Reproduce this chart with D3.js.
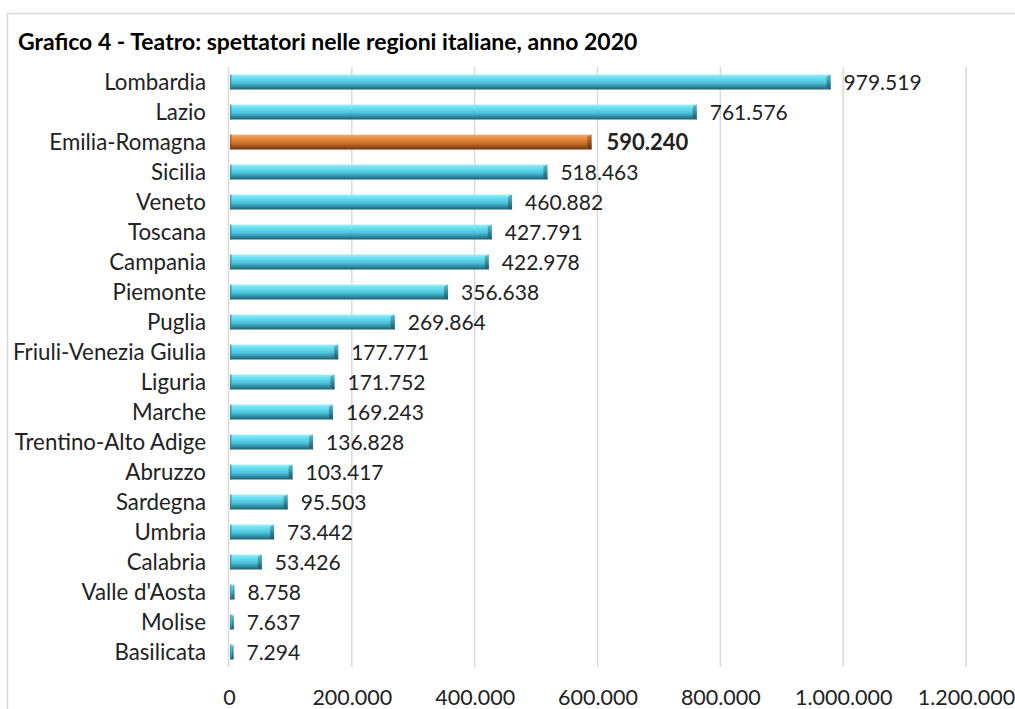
<!DOCTYPE html>
<html><head><meta charset="utf-8">
<script src="https://cdn.jsdelivr.net/npm/d3@7"></script>
<style>
body{margin:0;background:#fff;}
svg{display:block;font-family:Lato,"Open Sans",sans-serif;}
</style></head>
<body><svg id="c" width="1015" height="709"></svg>
<script>
const regions = ["Lombardia","Lazio","Emilia-Romagna","Sicilia","Veneto","Toscana","Campania","Piemonte","Puglia","Friuli-Venezia Giulia","Liguria","Marche","Trentino-Alto Adige","Abruzzo","Sardegna","Umbria","Calabria","Valle d'Aosta","Molise","Basilicata"];
const spettatori = [979519,761576,590240,518463,460882,427791,422978,356638,269864,177771,171752,169243,136828,103417,95503,73442,53426,8758,7637,7294];
const highlight = "Emilia-Romagna";
const tickValues = [0,200000,400000,600000,800000,1000000,1200000];
const title = "Grafico 4 - Teatro: spettatori nelle regioni italiane, anno 2020";

const svg = d3.select("#c");
const fmt = v => d3.format(",")(v).replace(/,/g,".");
const FF = "Lato,'Open Sans',sans-serif";

// frame
svg.append("rect").attr("x",7.5).attr("y",13.5).attr("width",1020).attr("height",720)
  .attr("fill","#fff").attr("stroke","#d9d9d9").attr("stroke-width",1.5);

svg.append("text").attr("x",18).attr("y",50).attr("font-size",23).attr("font-weight","bold")
  .attr("fill","#000").text(title);

const x = d3.scaleLinear().domain([0,1200000]).range([229,966]);
const y = d3.scaleBand().domain(regions).range([67,667]).paddingInner(0.5).paddingOuter(0.25);

const defs = svg.append("defs");
function grad(id, stops){
  const g = defs.append("linearGradient").attr("id",id).attr("x1",0).attr("y1",0).attr("x2",0).attr("y2",1);
  stops.forEach(s=>g.append("stop").attr("offset",s[0]).attr("stop-color",s[1]));
}
grad("gc",[[0,"#9ef0fb"],[0.2,"#6fe0f3"],[0.55,"#4cc3dc"],[0.8,"#2f8ea3"],[1,"#1f5f6e"]]);
grad("go",[[0,"#f6b27a"],[0.2,"#eb944d"],[0.55,"#d2732d"],[0.8,"#9d521c"],[1,"#6a3410"]]);
grad("gcEnd",[[0,"#5bbfd2"],[1,"#1d5563"]]);
grad("goEnd",[[0,"#c77a3e"],[1,"#5d2e0e"]]);

// grid
svg.append("g").selectAll("line").data(tickValues.slice(1)).join("line")
  .attr("x1",d=>x(d)).attr("x2",d=>x(d)).attr("y1",67).attr("y2",667)
  .attr("stroke","#d9d9d9").attr("stroke-width",1.5);

// axis line
svg.append("line").attr("x1",228.5).attr("x2",228.5).attr("y1",67).attr("y2",667)
  .attr("stroke","#d9d9d9").attr("stroke-width",1.5);

// x axis tick labels
const xAxis = d3.axisBottom(x).tickValues(tickValues).tickFormat(fmt).tickSize(0).tickPadding(0);
const gx = svg.append("g").attr("transform","translate(0,690)").call(xAxis);
gx.select(".domain").remove();
gx.selectAll("text").attr("font-size",21.5).attr("fill","#222").attr("font-family",FF);

// y axis labels
const yAxis = d3.axisLeft(y).tickSize(0).tickPadding(23);
const gy = svg.append("g").attr("transform","translate(229,0)").call(yAxis);
gy.select(".domain").remove();
gy.selectAll("text").attr("font-size",22.3).attr("fill","#222").attr("font-family",FF).attr("dy","0.35em");

const bh = y.bandwidth();
const bars = svg.append("g").selectAll("g").data(regions.map((r,i)=>({r,v:spettatori[i]}))).join("g");
bars.append("rect")
  .attr("x",x(0)+1).attr("y",d=>y(d.r)).attr("width",d=>Math.max(2,x(d.v)-x(0)-1)).attr("height",bh)
  .attr("fill",d=>d.r===highlight?"url(#go)":"url(#gc)");
// bevelled end cap
bars.append("path")
  .attr("d",d=>{
    const xe = x(d.v), y0 = y(d.r), w = Math.min(4, Math.max(1,(xe-x(0))/3));
    return `M${xe-w},${y0+2}L${xe},${y0}L${xe},${y0+bh}L${xe-w},${y0+bh-2}Z`;
  })
  .attr("fill",d=>d.r===highlight?"url(#goEnd)":"url(#gcEnd)");
// left edge
bars.append("rect").attr("x",x(0)+1).attr("y",d=>y(d.r)).attr("width",1.5).attr("height",bh)
  .attr("fill",d=>d.r===highlight?"#8a4a18":"#2b7a8c").attr("opacity",0.6);

// value labels
bars.append("text")
  .attr("x",d=>x(d.v)+(d.r===highlight?15:13)).attr("y",d=>y(d.r)+bh/2).attr("dy","0.38em")
  .attr("font-size",d=>d.r===highlight?22:21)
  .attr("font-weight",d=>d.r===highlight?"bold":"normal")
  .attr("fill","#222").attr("font-family",FF).text(d=>fmt(d.v));
</script></body></html>
